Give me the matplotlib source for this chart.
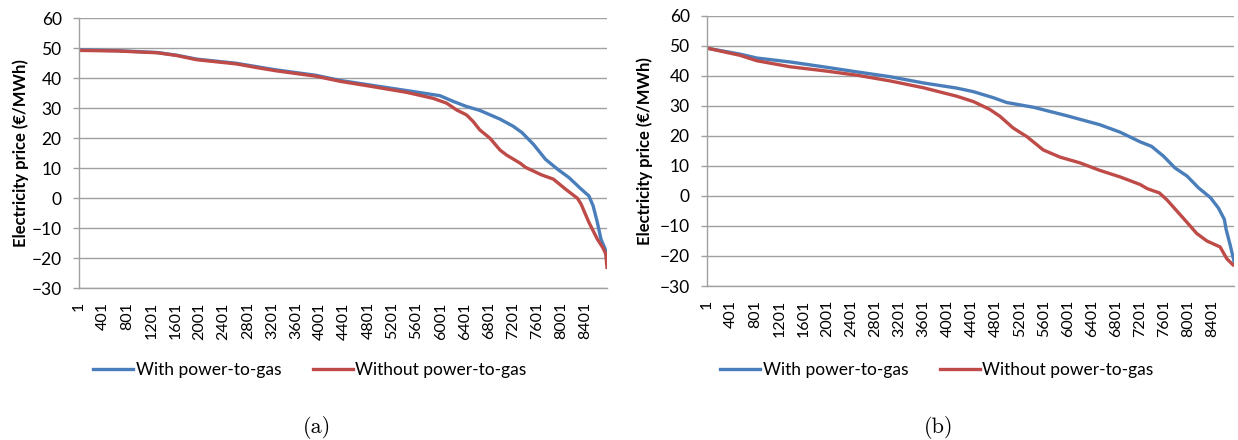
import matplotlib
matplotlib.use("Agg")
import matplotlib.pyplot as plt

# -----------------------
# Data (hour rank -> EUR/MWh)
# -----------------------
hours_a_with = [1, 640, 1300, 1620, 1950, 2280, 2610, 2940, 3270, 3600, 3930, 4330, 4880,
                5440, 5990, 6210, 6430, 6650, 6985, 7205, 7350, 7540, 7740, 7940, 8130,
                8330, 8460, 8530, 8600, 8660, 8730, 8760]
price_a_with = [49.5, 49.2, 48.6, 47.7, 46.4, 45.7, 45.0, 43.9, 42.8, 41.9, 41.0, 39.3, 37.6,
                35.9, 34.2, 32.3, 30.6, 29.3, 26.4, 24.0, 21.9, 18.0, 13.0, 9.7, 6.9,
                3.1, 0.8, -2.5, -8.0, -13.6, -16.9, -20.2]

hours_a_without = [1, 640, 1300, 1620, 1950, 2280, 2610, 2940, 3270, 3600, 3930, 4330, 4880,
                   5440, 5880, 6100, 6270, 6430, 6540, 6650, 6820, 6985, 7095, 7320, 7410,
                   7675, 7870, 8070, 8270, 8330, 8460, 8600, 8690, 8740, 8760]
price_a_without = [49.3, 49.1, 48.5, 47.6, 46.2, 45.5, 44.8, 43.6, 42.5, 41.6, 40.7, 39.0, 37.2,
                   35.3, 33.3, 31.7, 29.4, 27.8, 25.6, 22.8, 20.0, 16.1, 14.4, 11.7, 10.3,
                   7.8, 6.4, 3.1, 0.0, -1.9, -8.0, -13.6, -16.4, -18.5, -23.0]

hours_b_with = [1, 550, 830, 1380, 1930, 2490, 3040, 3600, 4150, 4430, 4760, 4980, 5430, 5980,
                6530, 6870, 7200, 7390, 7590, 7780, 7980, 8170, 8370, 8500, 8600, 8630,
                8695, 8760]
price_b_with = [49.2, 47.2, 45.9, 44.6, 43.0, 41.3, 39.7, 37.6, 35.9, 34.7, 32.7, 31.1, 29.5, 26.7,
                23.7, 21.2, 18.0, 16.5, 13.2, 9.3, 6.6, 2.7, -0.6, -4.0, -7.8, -11.2,
                -16.2, -21.7]

hours_b_without = [1, 550, 830, 1380, 1930, 2490, 3040, 3600, 4150, 4430, 4700, 4870, 5090,
                   5320, 5590, 5870, 6200, 6530, 6870, 7200, 7320, 7520, 7650, 7810, 7970,
                   8140, 8310, 8530, 8640, 8750, 8760]
price_b_without = [49.2, 46.8, 45.0, 43.0, 41.7, 40.2, 38.3, 36.0, 33.2, 31.4, 28.8, 26.5, 22.6,
                   19.7, 15.3, 12.9, 11.0, 8.5, 6.3, 3.8, 2.4, 1.0, -1.4, -5.0, -8.6,
                   -12.5, -15.0, -17.0, -20.9, -23.1, -23.0]

x_ticks = list(range(1, 8402, 400))
y_ticks = list(range(-30, 61, 10))
series_labels = ["With power-to-gas", "Without power-to-gas"]
captions = ["(a)", "(b)"]

# -----------------------
# Style
# -----------------------
blue = "#4A7EBB"
red = "#BE4B48"
grid_gray = "#A0A0A0"
plt.rcParams['font.family'] = ['Lato', 'DejaVu Sans']

fig = plt.figure(figsize=(12.38, 4.4), dpi=100)

panels = [
    # axes rect, legend center, caption x, ylabel x offset
    ([79 / 1238, 1 - 288.3 / 440, 528 / 1238, 270 / 440], (310 / 1238, 1 - 370 / 440),
     317 / 1238, -50 / 528,
     hours_a_with, price_a_with, hours_a_without, price_a_without),
    ([707 / 1238, 1 - 286 / 440, 527 / 1238, 270.3 / 440], (937 / 1238, 1 - 370 / 440),
     939 / 1238, -54 / 527,
     hours_b_with, price_b_with, hours_b_without, price_b_without),
]

for i, (rect, leg_xy, cap_x, ylab_x, hw, pw, hwo, pwo) in enumerate(panels):
    ax = fig.add_axes(rect)
    ax.plot(hw, pw, color=blue, lw=2.4, solid_joinstyle='round', label=series_labels[0])
    ax.plot(hwo, pwo, color=red, lw=2.4, solid_joinstyle='round', label=series_labels[1])

    ax.set_xlim(0.5, 8760.5)
    ax.set_ylim(-30, 60)
    ax.set_yticks(y_ticks)
    ax.set_xticks(x_ticks)
    ax.set_xticklabels([str(t) for t in x_ticks], rotation=90, fontsize=11.5)
    ax.tick_params(axis='x', length=0, pad=10, colors='black')
    ax.tick_params(axis='y', length=4.5, width=1, color=grid_gray, pad=8, labelsize=12.5)

    ax.grid(axis='y', color=grid_gray, lw=1)
    ax.set_axisbelow(True)
    for side in ['top', 'right']:
        ax.spines[side].set_visible(False)
    for side in ['left', 'bottom']:
        ax.spines[side].set_color(grid_gray)
        ax.spines[side].set_linewidth(1)

    ax.set_ylabel("Electricity price (€/MWh)", fontsize=12, fontweight='bold')
    ax.yaxis.set_label_coords(ylab_x, 0.5)

    ax.legend(loc='center', bbox_to_anchor=leg_xy, bbox_transform=fig.transFigure,
              ncol=2, frameon=False, fontsize=12.5, handlelength=2.3,
              handletextpad=0.15, columnspacing=1.8)

    fig.text(cap_x, 1 - 427 / 440, captions[i], family='cmr10', fontsize=16,
             ha='center', va='center')

fig.savefig("out.png", dpi=100)
